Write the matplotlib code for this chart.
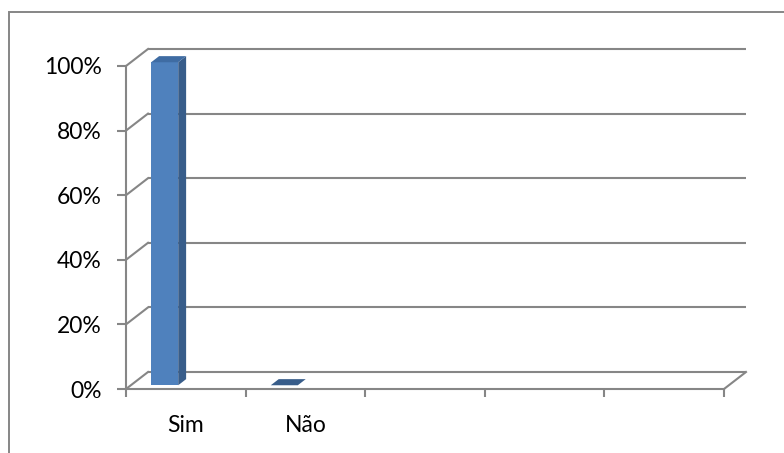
import matplotlib
matplotlib.use("Agg")
import matplotlib.pyplot as plt
from matplotlib.patches import Polygon, Rectangle

plt.rcParams["font.family"] = ["Lato", "DejaVu Sans"]

# Data
categories = ["Sim", "Não", "", "", ""]
values = [100, 0]
y_ticks = [0, 20, 40, 60, 80, 100]
y_labels = ["0%", "20%", "40%", "60%", "80%", "100%"]

GRID = "#868686"
FRONT = "#4F81BD"
SIDE = "#385D8A"
TOP = "#3F6CA3"

W_PX, H_PX = 784, 453
fig = plt.figure(figsize=(W_PX / 100, H_PX / 100), dpi=100)
fig.patch.set_facecolor("white")

# front plane of the 3D box, in pixels
left, right, bottom, top = 126, 724, 389, 66
ax = fig.add_axes([left / W_PX, 1 - bottom / H_PX,
                   (right - left) / W_PX, (bottom - top) / H_PX])
n = len(categories)
ax.set_xlim(0, n)
ax.set_ylim(0, 100)

# depth of the box (pixels) converted to data units
kx = (right - left) / n
ky = (bottom - top) / 100
dx, dy = 22 / kx, 17 / ky

lw = 1.5
# back wall + side wall gridlines
for t in y_ticks:
    ax.plot([dx, n + dx], [t + dy, t + dy], color=GRID, lw=lw, clip_on=False,
            solid_capstyle="butt", zorder=1)
    ax.plot([0, dx], [t, t + dy], color=GRID, lw=lw, clip_on=False, zorder=1)
# right edge of the floor
ax.plot([n, n + dx], [0, dy], color=GRID, lw=lw, clip_on=False, zorder=1)

# bars (front face at depth f0, back at f1)
f0, f1 = 0.22, 0.58
bar_left, bar_w = 0.17, 0.226
for i, v in enumerate(values):
    xl = i + bar_left + f0 * dx
    xr = xl + bar_w
    b0 = f0 * dy
    sx, sy = (f1 - f0) * dx, (f1 - f0) * dy
    ax.bar(xl, v, width=bar_w, bottom=b0, align="edge", color=FRONT,
           edgecolor="none", zorder=3, clip_on=False)
    if v > 0:
        ax.add_patch(Polygon([(xr, b0), (xr, v + b0), (xr + sx, v + b0 + sy),
                              (xr + sx, b0 + sy)], closed=True, color=SIDE,
                             lw=0, zorder=3, clip_on=False))
    ax.add_patch(Polygon([(xl, v + b0), (xr, v + b0), (xr + sx, v + b0 + sy),
                          (xl + sx, v + b0 + sy)], closed=True,
                         color=TOP if v > 0 else SIDE, lw=0, zorder=4,
                         clip_on=False))

# front axes
for s in ["top", "right"]:
    ax.spines[s].set_visible(False)
for s in ["left", "bottom"]:
    ax.spines[s].set_color(GRID)
    ax.spines[s].set_linewidth(lw)
    ax.spines[s].set_zorder(5)
ax.patch.set_visible(False)

ax.set_yticks(y_ticks)
ax.set_yticklabels(y_labels)
ax.set_xticks(range(n + 1))
ax.set_xticklabels([])
ax.set_xticks([i + 0.5 for i in range(n)], minor=True)
ax.set_xticklabels(categories, minor=True)
ax.tick_params(axis="y", direction="out", length=6.5, width=lw, color=GRID,
               pad=11, labelsize=16.5, labelcolor="black")
ax.tick_params(axis="x", which="major", direction="out", length=6, width=lw,
               color=GRID)
ax.tick_params(axis="x", which="minor", length=0, pad=19, labelsize=16.5,
               labelcolor="black")

# chart border
fig.add_artist(Rectangle((9 / W_PX, -0.1), 1.2, 1.1 - 12 / H_PX, fill=False,
                         ec=GRID, lw=1.4, transform=fig.transFigure))

fig.savefig("out.png", dpi=100, facecolor="white")
